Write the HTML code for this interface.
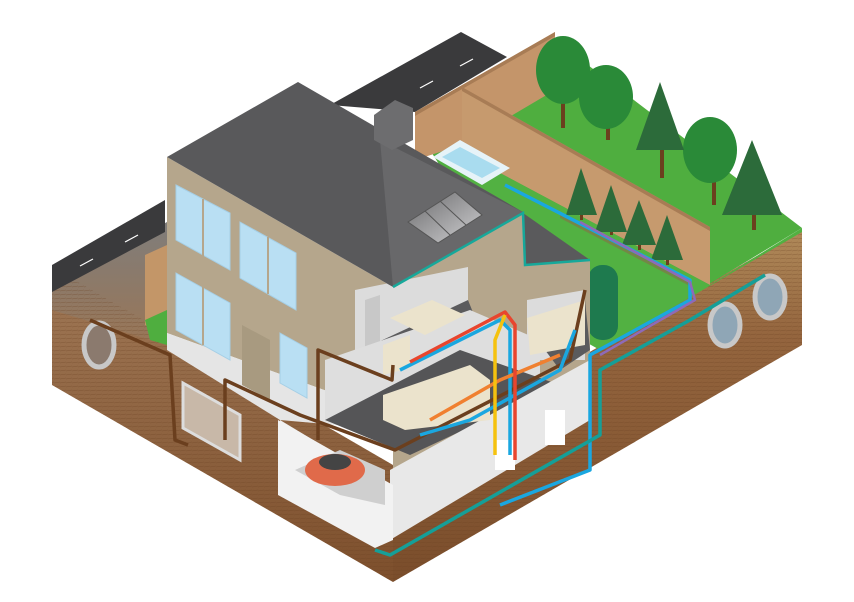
<!DOCTYPE html>
<html><head><meta charset="utf-8"><style>
html,body{margin:0;padding:0;background:#fff;width:854px;height:602px;overflow:hidden}
</style></head><body>
<svg width="854" height="602" viewBox="0 0 854 602" xmlns="http://www.w3.org/2000/svg">
<defs>
<linearGradient id="dl" x1="0" y1="0" x2="0" y2="1"><stop offset="0" stop-color="#8e8a86"/><stop offset="0.12" stop-color="#9c7452"/><stop offset="1" stop-color="#7d4f2c"/></linearGradient>
<linearGradient id="dr" x1="0" y1="0" x2="0" y2="1"><stop offset="0" stop-color="#b08a5a"/><stop offset="0.3" stop-color="#94653e"/><stop offset="1" stop-color="#7a4d2b"/></linearGradient>
<linearGradient id="sp" x1="0" y1="0" x2="1" y2="1"><stop offset="0" stop-color="#6b6b6d"/><stop offset="1" stop-color="#d0d0d2"/></linearGradient>
<linearGradient id="gv" x1="0" y1="0" x2="0" y2="1"><stop offset="0" stop-color="#7f7d7b"/><stop offset="1" stop-color="#9a7656"/></linearGradient>
<pattern id="st" width="6" height="4" patternUnits="userSpaceOnUse"><line x1="0" y1="3" x2="6" y2="2" stroke="#6a4020" stroke-width="0.6" opacity="0.5"/></pattern>
</defs>
<polygon points="52,267 393,465 393,582 52,385" fill="url(#dl)"/>
<polygon points="393,465 802,230 802,345 393,582" fill="url(#dr)"/>
<polygon points="52,285 167,222 167,345 52,310" fill="url(#gv)"/>
<polygon points="52,267 393,465 393,582 52,385" fill="url(#st)"/>
<polygon points="393,465 802,230 802,345 393,582" fill="url(#st)"/>
<polygon points="52,265 165,200 165,232 52,292" fill="#3a3a3c"/>
<g stroke="#fff" stroke-width="1.2"><line x1="80" y1="266" x2="93" y2="259"/><line x1="125" y1="242" x2="138" y2="235"/></g>
<polygon points="145,255 167,245 167,335 145,325" fill="#c39668"/>
<polygon points="145,320 167,310 167,345 150,340" fill="#4fae3f"/>
<polygon points="330,105 461,32 507,57 415,112" fill="#3a3a3c"/>
<g stroke="#fff" stroke-width="1.2"><line x1="420" y1="88" x2="433" y2="81"/><line x1="460" y1="66" x2="473" y2="59"/></g>
<polygon points="430,150 555,40 802,228 600,350 525,300" fill="#4fae3f"/>
<polygon points="415,112 555,32 555,90 462,145 415,160" fill="#c4956a"/>
<polygon points="415,112 555,32 555,36 415,116" fill="#a87c55"/>
<polygon points="462,87 710,227 710,285 500,173 462,150" fill="#c69a6e"/>
<polygon points="462,87 710,227 710,231 462,91" fill="#a87c55"/>
<polygon points="455,152 500,173 710,285 802,228 802,232 600,350 430,255" fill="#52b142"/>
<polygon points="560,212 690,280 690,286 560,218" fill="#8b6a4a" opacity="0.6"/>
<polygon points="433,157 460,140 510,168 482,185" fill="#e6f3f8"/>
<polygon points="442,157 460,147 500,168 482,178" fill="#a9dcef"/>
<g fill="#6b3f1e">
<rect x="561" y="90" width="4" height="38"/><rect x="606" y="105" width="4" height="35"/><rect x="660" y="140" width="4" height="38"/><rect x="712" y="165" width="4" height="40"/><rect x="752" y="195" width="4" height="35"/>
<rect x="580" y="200" width="3" height="20"/><rect x="610" y="215" width="3" height="20"/><rect x="638" y="230" width="3" height="20"/><rect x="666" y="245" width="3" height="20"/>
</g>
<g fill="#2a8a38">
<ellipse cx="563" cy="70" rx="27" ry="34"/><ellipse cx="606" cy="97" rx="27" ry="32"/><ellipse cx="710" cy="150" rx="27" ry="33"/>
</g>
<g fill="#2c6b3a">
<polygon points="660,82 636,150 684,150"/><polygon points="752,140 722,215 782,215"/>
<polygon points="581,168 566,215 597,215"/><polygon points="611,185 595,232 627,232"/><polygon points="639,200 622,245 656,245"/><polygon points="667,215 651,260 683,260"/>
</g>
<rect x="588" y="265" width="30" height="75" rx="14" fill="#1e7a4e"/>
<polygon points="167,157 393,287 393,415 167,333" fill="#b5a68c"/>
<polygon points="167,333 393,415 393,430 280,420 167,350" fill="#e5e5e5"/>
<g fill="#b9dff3" stroke="#a5cfe6" stroke-width="1">
<polygon points="176,185 230,213 230,270 176,240"/><polygon points="240,222 296,253 296,310 240,278"/>
<polygon points="176,273 230,303 230,360 176,330"/><polygon points="280,333 307,348 307,398 280,383"/>
</g>
<g stroke="#b5a68c" stroke-width="2"><line x1="203" y1="199" x2="203" y2="345"/><line x1="268" y1="237" x2="268" y2="294"/></g>
<polygon points="242,325 270,340 270,400 242,385" fill="#a89a80"/>
<polygon points="393,287 523,213 525,265 590,260 590,400 393,515" fill="#b5a68c"/>
<polygon points="355,290 468,267 468,345 355,353" fill="#dcdcdc"/>
<polygon points="365,300 380,295 380,345 365,350" fill="#c8c8c8"/>
<polygon points="355,353 468,300 480,330 380,375" fill="#5b5b5d"/>
<polygon points="527,300 585,290 585,360 527,360" fill="#dcdcdc"/>
<polygon points="530,330 585,300 590,350 560,370" fill="#5b5b5d"/>
<polygon points="325,360 470,310 540,340 540,400 325,420" fill="#dedede"/>
<polygon points="325,420 460,350 560,385 410,455" fill="#555557"/>
<polygon points="280,420 393,488 393,530 280,470" fill="#efefef"/>
<polygon points="390,470 590,360 590,420 390,540" fill="#e8e8e8"/>
<polygon points="278,420 278,495 375,548 393,540 393,485" fill="#f2f2f2"/>
<polygon points="295,470 340,450 385,470 385,505 340,495" fill="#cfcfcf"/>
<ellipse cx="335" cy="470" rx="30" ry="16" fill="#e06a4a"/>
<ellipse cx="335" cy="462" rx="16" ry="8" fill="#444"/>
<polygon points="390,318 432,300 465,315 425,335" fill="#ebe3cc"/>
<polygon points="383,345 410,335 410,368 383,375" fill="#ebe3cc"/>
<polygon points="383,395 470,365 490,380 490,420 405,430 383,420" fill="#ebe3cc"/>
<polygon points="527,318 585,300 585,345 530,355" fill="#ebe3cc"/>
<rect x="495" y="440" width="20" height="30" fill="#fff"/>
<rect x="545" y="410" width="20" height="35" fill="#fff"/>
<polygon points="167,157 298,82 523,212 393,287" fill="#59595b"/>
<polygon points="380,140 523,212 393,287" fill="#68686a"/>
<polygon points="523,213 590,260 525,265" fill="#5a5a5c"/>
<polyline points="393,287 523,213 525,265 590,260" fill="none" stroke="#17a89a" stroke-width="2.5"/>
<polygon points="374,115 395,100 413,108 413,140 392,150 374,140" fill="#6d6d6f"/>
<polygon points="408,222 455,192 482,215 438,243" fill="url(#sp)" stroke="#555" stroke-width="1"/>
<line x1="425" y1="211" x2="450" y2="235" stroke="#555"/><line x1="440" y1="201" x2="466" y2="225" stroke="#555"/>
<ellipse cx="99" cy="345" rx="15" ry="22" fill="#8b7a6e" stroke="#c8c8c8" stroke-width="5"/>
<ellipse cx="725" cy="325" rx="15" ry="21" fill="#8fa6b6" stroke="#c8c8c8" stroke-width="5"/>
<ellipse cx="770" cy="297" rx="15" ry="21" fill="#8fa6b6" stroke="#c8c8c8" stroke-width="5"/>
<polygon points="183,383 240,415 240,460 183,428" fill="#c8b8a8" stroke="#ddd" stroke-width="3"/>
<g fill="none" stroke-width="3.5" stroke-linejoin="round">
<polyline points="90,320 170,355 175,440 188,445" stroke="#6b3f1e"/>
<polyline points="225,440 225,380 300,415 395,450 570,360 585,290" stroke="#6b3f1e"/>
<polyline points="318,440 318,350 392,380 393,365" stroke="#6b3f1e"/>
<polyline points="505,185 690,280 690,300 590,355 590,470 500,505" stroke="#1aa7e0"/>
<polyline points="420,435 470,420 560,370 575,330" stroke="#1aa7e0"/>
<polyline points="400,370 500,320 510,330 510,455" stroke="#1aa7e0"/>
<polyline points="430,420 500,380 560,355" stroke="#f08030"/>
<polyline points="410,362 505,312 515,325 515,460" stroke="#e8452e"/>
<polyline points="495,455 495,340 505,315" stroke="#f5c20f"/>
<polyline points="375,550 390,555 600,435 600,370 690,320 765,275" stroke="#159f98"/>
<polyline points="580,222 690,282 695,300 600,355" stroke="#8e6ab8" stroke-width="2.5"/>
</g>
</svg>
</body></html>
